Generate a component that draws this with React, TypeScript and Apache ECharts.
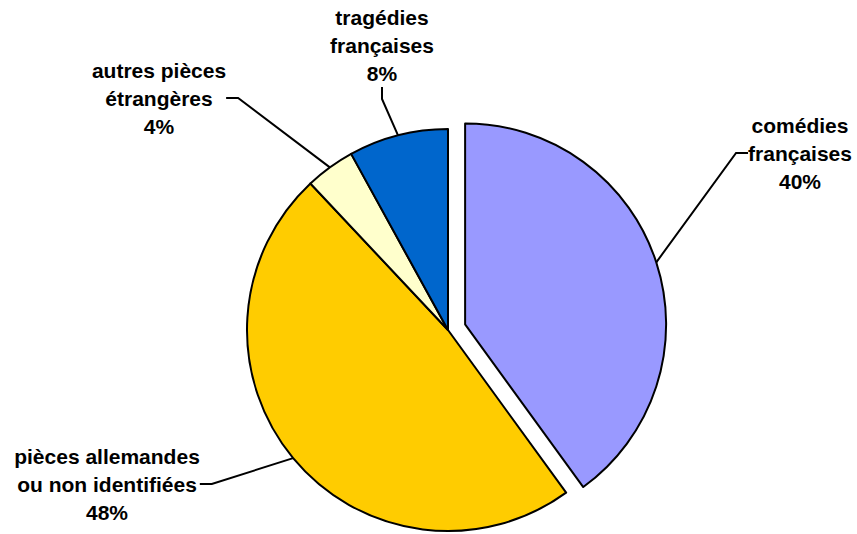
import React, { useEffect, useRef } from "react";
import * as echarts from "echarts";

const categories = [
  "comédies\nfrançaises",
  "pièces allemandes\nou non identifiées",
  "autres pièces\nétrangères",
  "tragédies\nfrançaises",
];
const shares = [40, 48, 4, 8];
const colors = ["#9999FF", "#FFCC00", "#FFFFCC", "#0066CC"];
const explodedIndex = 0;

// label block centres (pixels), by category index
const labelSpots: [number, number][] = [
  [800, 153],
  [107, 484],
  [159, 98],
  [382, 45],
];

const CX = 448;
const CY = 330;
const R = 201;
const EXPLODE = 18;

export default function App() {
  const ref = useRef<HTMLDivElement>(null);
  useEffect(() => {
    document.body.style.margin = "0";
    const chart = echarts.init(ref.current!, null, { renderer: "svg" });

    const total = shares.reduce((a, b) => a + b, 0);
    const before = shares.slice(0, explodedIndex).reduce((a, b) => a + b, 0);
    const midFrac = (before + shares[explodedIndex] / 2) / total;
    const ang = midFrac * Math.PI * 2; // clockwise from top
    const ex = CX + EXPLODE * Math.sin(ang);
    const ey = CY - EXPLODE * Math.cos(ang);

    const labelStyle = {
      show: true,
      position: "outside",
      formatter: "{b}\n{c}%",
      fontFamily: "Liberation Sans, Arial, sans-serif",
      fontWeight: "bold",
      fontSize: 21,
      lineHeight: 28,
      color: "#000000",
      align: "center",
    };

    const makeSeries = (exploded: boolean, center: number[]) => ({
      type: "pie",
      center,
      radius: R,
      startAngle: 90,
      clockwise: true,
      silent: true,
      emphasis: { disabled: true },
      avoidLabelOverlap: false,
      itemStyle: { borderColor: "#000000", borderWidth: 2 },
      label: labelStyle,
      labelLine: {
        show: true,
        length: 10,
        length2: 12,
        lineStyle: { color: "#000000", width: 2 },
      },
      labelLayout: (params: any) => {
        const p = labelSpots[params.dataIndex];
        return { x: p[0], y: p[1], align: "center", verticalAlign: "middle" };
      },
      data: categories.map((name, i) => {
        const visible = (i === explodedIndex) === exploded;
        return visible
          ? { name, value: shares[i], itemStyle: { color: colors[i] } }
          : {
              name,
              value: shares[i],
              itemStyle: { color: "rgba(0,0,0,0)", borderWidth: 0 },
              label: { show: false },
              labelLine: { show: false },
            };
      }),
    });

    chart.setOption({
      animation: false,
      backgroundColor: "#ffffff",
      series: [makeSeries(false, [CX, CY]), makeSeries(true, [ex, ey])],
    });
    return () => chart.dispose();
  }, []);
  return <div ref={ref} style={{ width: 857, height: 534 }} />;
}
